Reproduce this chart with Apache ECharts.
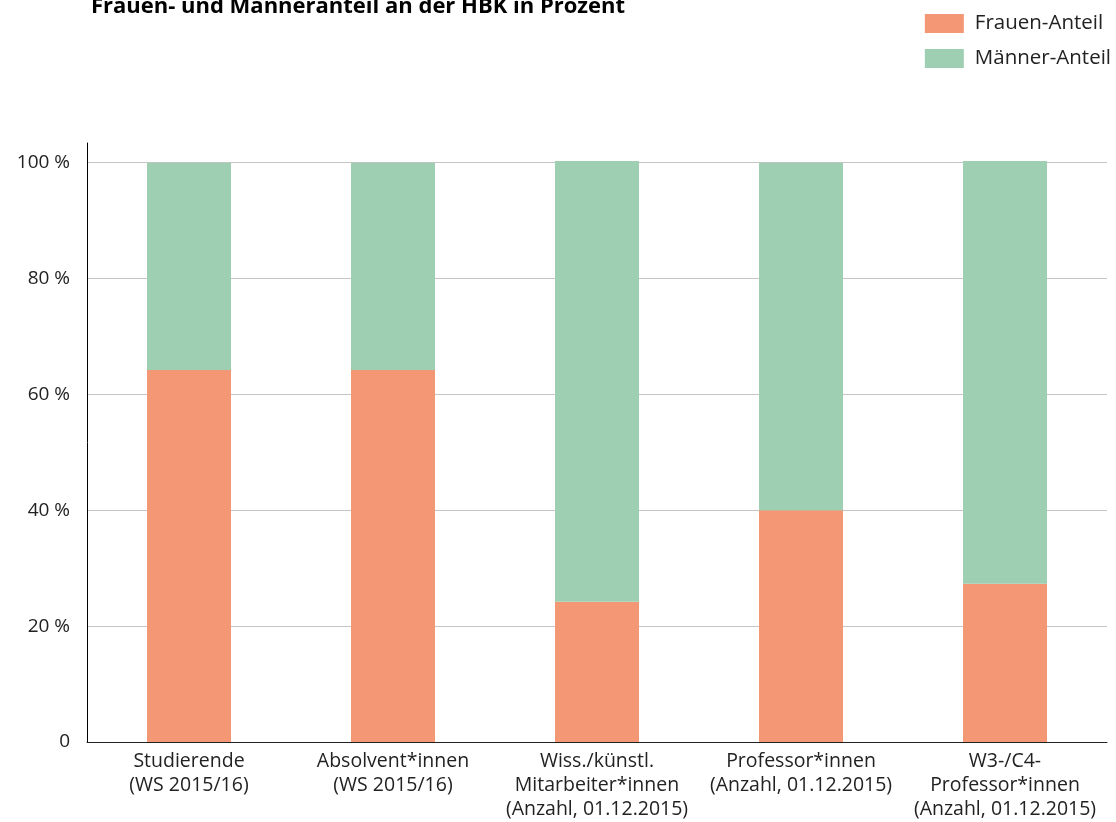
<!DOCTYPE html>
<html>
<head>
<meta charset="utf-8">
<script src="https://cdn.jsdelivr.net/npm/echarts@6/dist/echarts.min.js"></script>
<style>
  html, body { margin: 0; padding: 0; background: #fff; }
  #chart { width: 1116px; height: 822px; }
</style>
</head>
<body>
<div id="chart"></div>
<script>
// Daten
var kategorien = [
  'Studierende\n(WS 2015/16)',
  'Absolvent*innen\n(WS 2015/16)',
  'Wiss./künstl.\nMitarbeiter*innen\n(Anzahl, 01.12.2015)',
  'Professor*innen\n(Anzahl, 01.12.2015)',
  'W3-/C4-\nProfessor*innen\n(Anzahl, 01.12.2015)'
];
var frauenAnteil = [64.2, 64.2, 24.2, 40.0, 27.3];
var maennerAnteil = [35.8, 35.8, 76.1, 60.0, 73.0];
var yTicks = [0, 20, 40, 60, 80, 100];

var schrift = '"Open Sans", "Noto Sans", sans-serif';

var chart = echarts.init(document.getElementById('chart'));
var option = {
  backgroundColor: '#fff',
  textStyle: { fontFamily: schrift },
  title: {
    text: 'Frauen- und Männeranteil an der HBK in Prozent',
    left: 86,
    top: -9,
    textStyle: { fontFamily: schrift, fontSize: 22, fontWeight: 'bold', color: '#000' }
  },
  legend: {
    orient: 'vertical',
    right: 0,
    top: 8,
    itemWidth: 39,
    itemHeight: 19,
    itemGap: 14,
    icon: 'rect',
    textStyle: { fontFamily: schrift, fontSize: 20.5, lineHeight: 19, color: '#222', padding: [0, 0, 0, 6] },
    data: ['Frauen-Anteil', 'Männer-Anteil']
  },
  grid: { left: 87, right: 9, top: 143, bottom: 80 },
  xAxis: {
    type: 'category',
    data: kategorien,
    axisLine: { lineStyle: { color: '#222', width: 1 } },
    axisTick: {
      length: 10,
      lineStyle: { color: '#222' },
      interval: function (i) { return i < kategorien.length; }
    },
    axisLabel: {
      interval: 0,
      margin: 7,
      fontSize: 19.5,
      lineHeight: 24,
      color: '#222',
      fontFamily: schrift
    }
  },
  yAxis: {
    type: 'value',
    min: 0,
    max: 103.4,
    interval: 20,
    axisLine: { show: true, lineStyle: { color: '#000', width: 1 } },
    axisTick: { show: false },
    axisLabel: {
      showMaxLabel: false,
      margin: 17,
      fontSize: 19,
      color: '#222',
      fontFamily: schrift,
      formatter: function (v) {
        if (yTicks.indexOf(v) < 0) return '';
        return v === 0 ? '0' : v + ' %';
      }
    },
    splitLine: {
      show: true,
      showMinLine: false,
      showMaxLine: false,
      lineStyle: { color: '#c4c4c4', width: 1 }
    }
  },
  series: [
    {
      name: 'Frauen-Anteil',
      type: 'bar',
      stack: 'gesamt',
      data: frauenAnteil,
      barWidth: 84,
      clip: false,
      itemStyle: { color: '#F39775' }
    },
    {
      name: 'Männer-Anteil',
      type: 'bar',
      stack: 'gesamt',
      data: maennerAnteil,
      barWidth: 84,
      clip: false,
      itemStyle: { color: '#9ECFB2' }
    }
  ]
};
chart.setOption(option);
</script>
</body>
</html>
